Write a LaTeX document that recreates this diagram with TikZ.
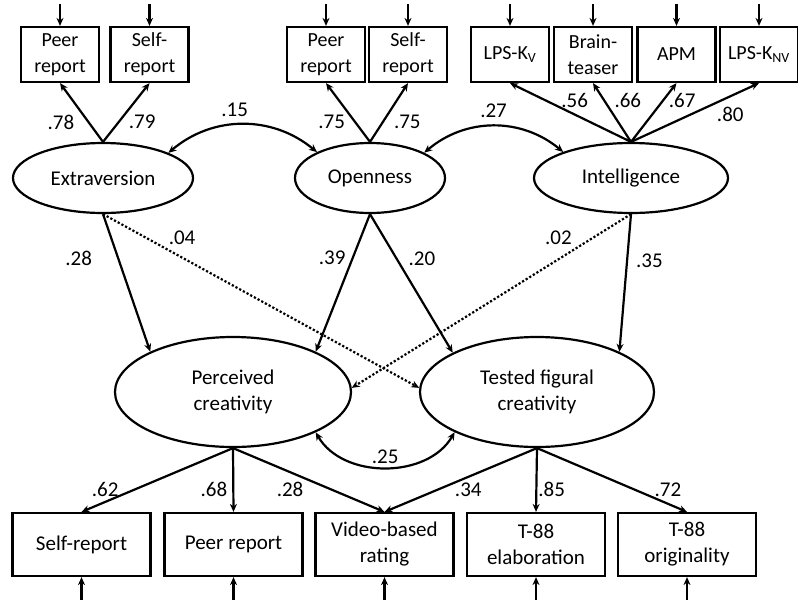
\documentclass[tikz,border=0pt]{standalone}
\usepackage{fontspec}
\setmainfont{Carlito}
\usetikzlibrary{shapes.geometric,arrows.meta}

\begin{document}
\begin{tikzpicture}[x=1pt, y=-1pt, line width=2.2pt, ->, >={Stealth[length=8pt,width=7pt]},
    font=\fontsize{21}{26}\selectfont,
    latent/.style={draw, ellipse, inner sep=0pt, align=center},
    ind/.style={draw, rectangle, inner sep=0pt, align=center, minimum width=78pt, minimum height=55pt, font=\fontsize{20}{26}\selectfont},
    obs/.style={draw, rectangle, inner sep=0pt, align=center, minimum width=138pt, minimum height=63pt},
    coef/.style={inner sep=1pt}]
    \useasboundingbox (0,0) rectangle (798,603);

    % indicators on top
    \node[ind] (E1) at (60,54.5) {Peer\\report};
    \node[ind] (E2) at (149.5,54.5) {Self-\\report};
    \node[ind] (O1) at (326,54.5) {Peer\\report};
    \node[ind] (O2) at (408,54.5) {Self-\\report};
    \node[ind] (I1) at (510,54.5) {LPS-K\textsubscript{V}};
    \node[ind] (I2) at (593,54.5) {Brain-\\teaser};
    \node[ind] (I3) at (676.5,54.5) {APM};
    \node[ind] (I4) at (759,54.5) {LPS-K\textsubscript{NV}};

    % latent variables
    \node[latent, minimum width=180pt, minimum height=70pt] (E) at (103,178) {Extraversion};
    \node[latent, minimum width=150pt, minimum height=70pt] (O) at (370,178) {Openness};
    \node[latent, minimum width=194pt, minimum height=70pt] (I) at (631,178) {Intelligence};
    \node[latent, minimum width=236pt, minimum height=110pt] (P) at (233,392) {Perceived\\creativity};
    \node[latent, minimum width=234pt, minimum height=110pt] (T) at (537,392) {Tested figural\\creativity};

    % indicators at the bottom
    \node[obs] (B1) at (81.5,544.5) {Self-report};
    \node[obs] (B2) at (233.5,544.5) {Peer report};
    \node[obs] (B3) at (384.5,544.5) {Video-based\\rating};
    \node[obs] (B4) at (536,544.5) {T-88\\elaboration};
    \node[obs] (B5) at (687,544.5) {T-88\\originality};

    % residuals
    \foreach \x in {E1,E2,O1,O2,I1,I2,I3,I4} {
        \coordinate (\x t) at ([yshift=22pt]\x.north);
        \draw (\x t) -- (\x.north);
    }
    \foreach \x in {B1,B2,B3,B4,B5} {
        \coordinate (\x b) at ([yshift=-23pt]\x.south);
        \draw (\x b) -- (\x.south);
    }

    \path
    (E.north) edge node[coef, pos=.34, left=12pt] {.78} (E1.south)
    (E.north) edge node[coef, pos=.34, right=8pt] {.79} (E2.south)
    (O.north) edge node[coef, pos=.34, left=8pt] {.75} (O1.south)
    (O.north) edge node[coef, pos=.34, right=9pt] {.75} (O2.south)
    (I.north) edge node[coef, pos=.7, right=13pt] {.56} (I1.south)
    (I.north) edge node[coef, pos=.7, right=8pt] {.66} (I2.south)
    (I.north) edge node[coef, pos=.7, right=4pt] {.67} (I3.south)
    (I.north) edge node[coef, pos=.46, right=25pt] {.80} (I4.south);

    \draw[<->] (E.21) to[bend left=40] node[coef, pos=.45, above=6pt] {.15} (O.154);
    \draw[<->] (O.25) to[bend left=40] node[coef, above=6pt] {.27} (I.159);

    \path
    (E.south) edge node[coef, pos=.32, left=24pt] {.28} (P.154)
    (E.south) edge[dotted] node[coef, pos=.25, above=11pt] {.04} (T.178)
    (O.south) edge node[coef, pos=.32, left=5pt] {.39} (P.26)
    (O.south) edge node[coef, pos=.32, right=10pt] {.20} (T.155)
    (I.south) edge[dotted] node[coef, pos=.26, above=13pt] {.02} (P.2)
    (I.south) edge node[coef, pos=.34, right=7pt] {.35} (T.26);

    \draw[<->] (P.-26) to[bend right=60] node[coef, above=2pt] {.25} (T.206);

    \path
    (P.south) edge node[coef, pos=.65, left=14pt] {.62} (B1.north)
    (P.south) edge node[coef, pos=.65, left=4pt] {.68} (B2.north)
    (P.south) edge node[coef, pos=.65, left=26pt] {.28} (B3.north)
    (T.south) edge node[coef, pos=.65, right=15pt] {.34} (B3.north)
    (T.south) edge node[coef, pos=.65, right=0pt] {.85} (B4.north)
    (T.south) edge node[coef, pos=.65, right=18pt] {.72} (B5.north);
\end{tikzpicture}
\end{document}
